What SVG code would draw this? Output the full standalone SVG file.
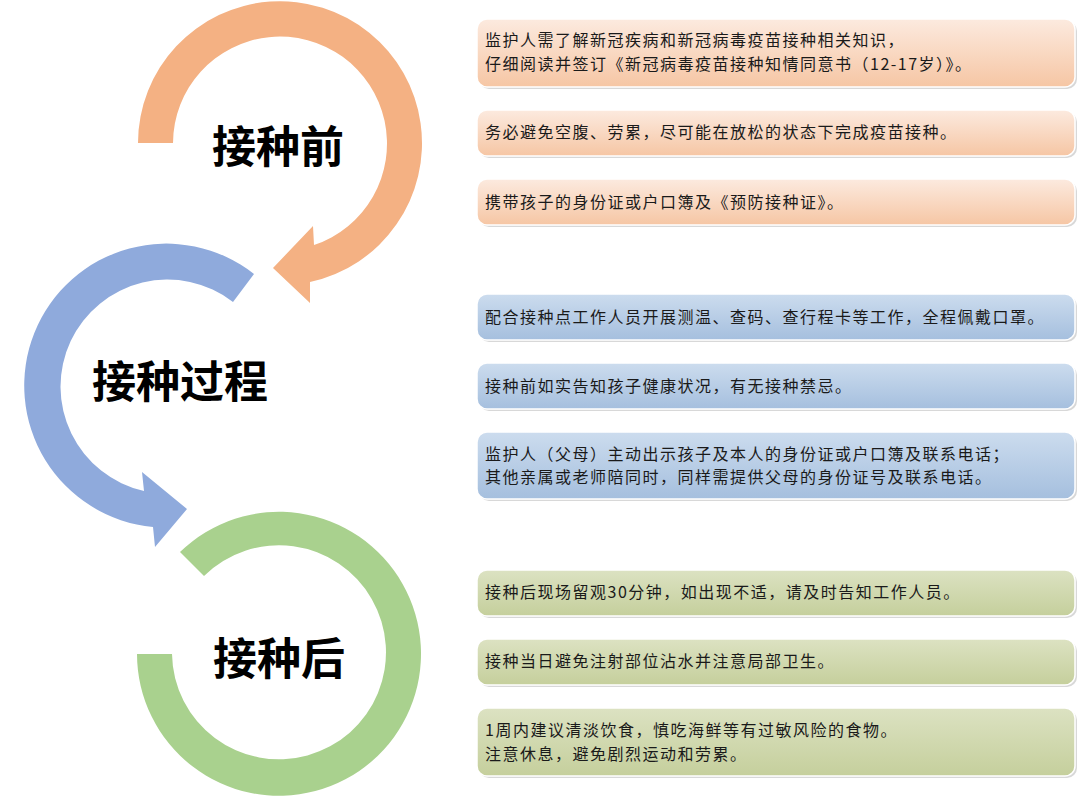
<svg xmlns="http://www.w3.org/2000/svg" width="1080" height="798" viewBox="0 0 1080 798">
<defs>
<linearGradient id="gO" x1="0" y1="0" x2="0" y2="1"><stop offset="0" stop-color="#FCEADF"/><stop offset="1" stop-color="#F6C6A4"/></linearGradient>
<linearGradient id="gB" x1="0" y1="0" x2="0" y2="1"><stop offset="0" stop-color="#CCDCEE"/><stop offset="1" stop-color="#A5BFDE"/></linearGradient>
<linearGradient id="gG" x1="0" y1="0" x2="0" y2="1"><stop offset="0" stop-color="#DCE2C2"/><stop offset="1" stop-color="#C5CF9C"/></linearGradient>
</defs>
<style>
.lbl{font-family:"Noto Sans CJK SC",sans-serif;font-size:44px;font-weight:700;fill:#000;text-anchor:middle}
.t{font-family:"Noto Sans CJK SC",sans-serif;font-size:16px;letter-spacing:1.5px;fill:#1a1a1a}
.sh{fill:#d8d8d8}
.bx{stroke:#ffffff;stroke-width:1.5}
.o{fill:url(#gO)}.b{fill:url(#gB)}.g{fill:url(#gG)}
</style>
<rect width="1080" height="798" fill="#ffffff"/>
<g id="arrows">
<path id="arc-before" fill="#F4B183" d="M138,143 A142,142 0 1 1 310,282 L310,303 L273,268 L313,226 L314,245 A107,107 0 1 0 173,143 Z"/>
<path id="arc-during" fill="#8FAADC" d="M254,274 A142,142 0 1 0 153,527 L155,547 L187,509 L142,472 L144,491 A107,107 0 1 1 233,302 Z"/>
<path id="arc-after" fill="#A9D18E" d="M137,654 A142,142 0 1 0 180,552 L204,576 A107,107 0 1 1 172,654 Z"/>
</g>
<g id="stage-before"><text class="lbl" x="278" y="163">接种前</text></g>
<g id="stage-during"><text class="lbl" x="180" y="398">接种过程</text></g>
<g id="stage-after"><text class="lbl" x="279" y="675">接种后</text></g>
<g id="box1"><rect class="sh" x="479" y="21" width="598" height="68" rx="10"/><rect class="bx o" x="477" y="19" width="598" height="68" rx="10"/>
<text class="t" x="485" y="46.3">监护人需了解新冠疾病和新冠病毒疫苗接种相关知识，<tspan x="485" dy="23.5">仔细阅读并签订《新冠病毒疫苗接种知情同意书（12-17岁）》。</tspan></text></g>
<g id="box2"><rect class="sh" x="479" y="112" width="598" height="46" rx="10"/><rect class="bx o" x="477" y="110" width="598" height="46" rx="10"/>
<text class="t" x="485" y="138.3">务必避免空腹、劳累，尽可能在放松的状态下完成疫苗接种。</text></g>
<g id="box3"><rect class="sh" x="479" y="181" width="598" height="46" rx="10"/><rect class="bx o" x="477" y="179" width="598" height="46" rx="10"/>
<text class="t" x="485" y="208">携带孩子的身份证或户口簿及《预防接种证》。</text></g>
<g id="box4"><rect class="sh" x="479" y="296" width="598" height="46" rx="10"/><rect class="bx b" x="477" y="294" width="598" height="46" rx="10"/>
<text class="t" x="485" y="323">配合接种点工作人员开展测温、查码、查行程卡等工作，全程佩戴口罩。</text></g>
<g id="box5"><rect class="sh" x="479" y="365" width="598" height="46" rx="10"/><rect class="bx b" x="477" y="363" width="598" height="46" rx="10"/>
<text class="t" x="485" y="392">接种前如实告知孩子健康状况，有无接种禁忌。</text></g>
<g id="box6"><rect class="sh" x="479" y="434" width="598" height="67" rx="10"/><rect class="bx b" x="477" y="432" width="598" height="67" rx="10"/>
<text class="t" x="485" y="459.5">监护人（父母）主动出示孩子及本人的身份证或户口簿及联系电话；<tspan x="485" dy="23.5">其他亲属或老师陪同时，同样需提供父母的身份证号及联系电话。</tspan></text></g>
<g id="box7"><rect class="sh" x="479" y="572" width="598" height="46" rx="10"/><rect class="bx g" x="477" y="570" width="598" height="46" rx="10"/>
<text class="t" x="485" y="598.3">接种后现场留观30分钟，如出现不适，请及时告知工作人员。</text></g>
<g id="box8"><rect class="sh" x="479" y="641" width="598" height="46" rx="10"/><rect class="bx g" x="477" y="639" width="598" height="46" rx="10"/>
<text class="t" x="485" y="667.3">接种当日避免注射部位沾水并注意局部卫生。</text></g>
<g id="box9"><rect class="sh" x="479" y="710" width="598" height="68" rx="10"/><rect class="bx g" x="477" y="708" width="598" height="68" rx="10"/>
<text class="t" x="485" y="736">1周内建议清淡饮食，慎吃海鲜等有过敏风险的食物。<tspan x="485" dy="23.5">注意休息，避免剧烈运动和劳累。</tspan></text></g>
</svg>
